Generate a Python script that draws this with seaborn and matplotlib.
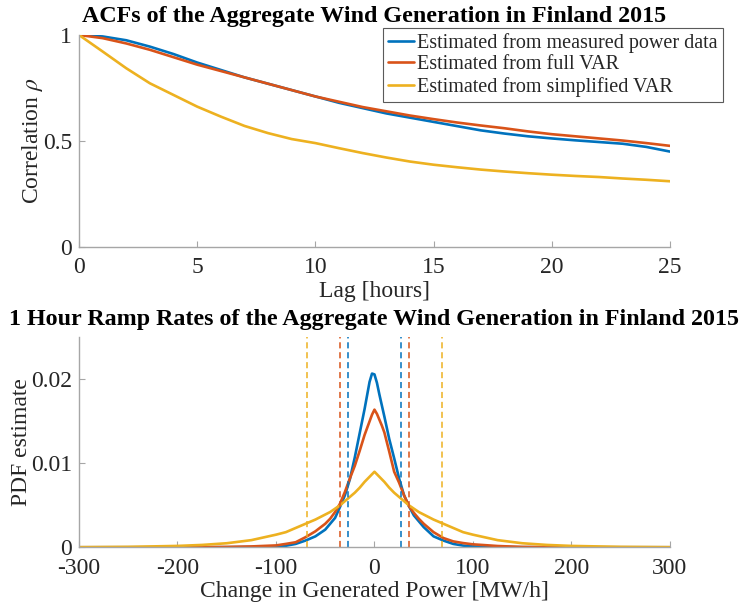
import numpy as np
import pandas as pd
import matplotlib
matplotlib.use("Agg")
import matplotlib.pyplot as plt
import seaborn as sns

# ---------------- data ----------------
series_names = ["Estimated from measured power data",
                "Estimated from full VAR",
                "Estimated from simplified VAR"]
colors = ["#0072BD", "#D95319", "#EDB120"]

lags = list(range(26))
acf_measured = [1.0, 0.993, 0.975, 0.945, 0.91, 0.87, 0.835, 0.80, 0.77, 0.74,
                0.71, 0.68, 0.655, 0.63, 0.61, 0.59, 0.57, 0.55, 0.535, 0.522,
                0.512, 0.503, 0.495, 0.487, 0.472, 0.45]
acf_full_var = [1.0, 0.985, 0.96, 0.93, 0.895, 0.86, 0.83, 0.80, 0.77, 0.74,
                0.71, 0.685, 0.66, 0.64, 0.62, 0.603, 0.587, 0.573, 0.56, 0.545,
                0.532, 0.522, 0.512, 0.502, 0.49, 0.477]
acf_simplified_var = [1.0, 0.922, 0.843, 0.772, 0.717, 0.662, 0.615, 0.571, 0.537, 0.509,
                      0.49, 0.466, 0.443, 0.422, 0.403, 0.388, 0.376, 0.365, 0.356, 0.348,
                      0.341, 0.335, 0.33, 0.323, 0.317, 0.31]

ramp = [-300, -250, -200, -175, -150, -125, -100, -90, -80, -70, -60, -50, -45, -40,
        -35, -30, -25, -20, -15, -10, -7.5, -5, -2.5, 0, 2.5, 5, 7.5, 10, 15, 20, 25,
        30, 35, 40, 45, 50, 60, 70, 80, 90, 100, 125, 150, 175, 200, 250, 300]
pdf_measured = [0, 0, 0, 0, 0.00001, 0.00003, 0.0001, 0.00018, 0.0004, 0.0008, 0.0013,
                0.0021, 0.0028, 0.0035, 0.0048, 0.0062, 0.0081, 0.0107, 0.0136, 0.0165,
                0.0181, 0.0197, 0.0207, 0.0206, 0.0196, 0.0182, 0.0169, 0.0156, 0.0129,
                0.0106, 0.0082, 0.0062, 0.0049, 0.0038, 0.0031, 0.0024, 0.0013, 0.0008,
                0.0004, 0.0002, 0.0001, 0.00003, 0.00001, 0, 0, 0, 0]
pdf_full_var = [0, 0, 0, 0.00002, 0.00004, 0.0001, 0.00022, 0.0004, 0.0006, 0.0012,
                0.0019, 0.0028, 0.0034, 0.0042, 0.0052, 0.0066, 0.0082, 0.0097, 0.0115,
                0.0134, 0.0142, 0.0150, 0.0158, 0.0164, 0.0159, 0.0152, 0.0145, 0.0137,
                0.0114, 0.0090, 0.0077, 0.0062, 0.0049, 0.0041, 0.0034, 0.0028, 0.0018,
                0.0011, 0.0007, 0.0005, 0.00035, 0.00015, 0.00004, 0.00002, 0, 0, 0]
pdf_simplified_var = [0.00001, 0.00005, 0.00016, 0.00028, 0.00048, 0.00085, 0.0015, 0.0018,
                      0.0023, 0.0028, 0.0033, 0.0039, 0.0042, 0.0046, 0.0050, 0.0055, 0.0060,
                      0.0065, 0.0071, 0.0078, 0.0081, 0.0084, 0.0087, 0.0090, 0.0087, 0.0084,
                      0.0081, 0.0078, 0.0071, 0.0065, 0.0060, 0.0055, 0.0050, 0.0046, 0.0042,
                      0.0039, 0.0033, 0.0028, 0.0023, 0.0018, 0.0015, 0.00085, 0.00048,
                      0.00028, 0.00016, 0.00005, 0.00001]

limit_measured = 26.9
limit_full_var = 34.7
limit_simplified_var = 68.6

top_title = "ACFs of the Aggregate Wind Generation in Finland 2015"
bottom_title = "1 Hour Ramp Rates of the Aggregate Wind Generation in Finland 2015"

# ---------------- style ----------------
sns.set_theme(style="white")
plt.rcParams["font.family"] = ["Liberation Serif", "DejaVu Serif"]
plt.rcParams["mathtext.fontset"] = "stix"
spine_col = "#a6a6a6"
text_col = "#262626"
plt.rcParams.update({
    "axes.unicode_minus": False,
    "axes.edgecolor": spine_col,
    "axes.linewidth": 1.0,
    "xtick.direction": "in",
    "ytick.direction": "in",
    "xtick.color": spine_col,
    "ytick.color": spine_col,
    "xtick.labelcolor": text_col,
    "ytick.labelcolor": text_col,
    "xtick.major.size": 4,
    "ytick.major.size": 4,
    "xtick.major.width": 0.8,
    "ytick.major.width": 0.8,
    "xtick.major.pad": 7.5,
    "ytick.major.pad": 5,
    "xtick.bottom": True,
    "ytick.left": True,
})

fig = plt.figure(figsize=(7.43, 6.07), dpi=100)
ax1 = fig.add_axes([0.1063, 0.5931, 0.7954, 0.3493])
ax2 = fig.add_axes([0.1063, 0.0984, 0.7954, 0.3456])

FS = 17

# ---------------- top: ACF ----------------
acf_df = pd.DataFrame({
    "lag": lags * 3,
    "rho": acf_measured + acf_full_var + acf_simplified_var,
    "series": [series_names[0]] * 26 + [series_names[1]] * 26 + [series_names[2]] * 26,
})
sns.lineplot(data=acf_df, x="lag", y="rho", hue="series", hue_order=series_names,
             palette=colors, estimator=None, errorbar=None, linewidth=1.9, ax=ax1)
ax1.set_xlim(0, 25)
ax1.set_ylim(0, 1)
ax1.set_xticks([0, 5, 10, 15, 20, 25])
ax1.set_yticks([0, 0.5, 1])
ax1.set_yticklabels(["0", "0.5", "1"])
ax1.set_xlabel("Lag [hours]", fontsize=FS, color=text_col, labelpad=2)
ax1.set_ylabel(r"Correlation $\rho$", fontsize=FS, color=text_col, labelpad=-1.5)
ax1.set_title(top_title, fontsize=17.3, fontweight="bold", color="black", pad=9)
ax1.tick_params(labelsize=FS)
handles, labels = ax1.get_legend_handles_labels()
ax1.legend(handles, labels, loc="upper left", bbox_to_anchor=(0.5155, 0.954),
           bbox_transform=fig.transFigure, borderaxespad=0, fontsize=14.5,
           frameon=True, fancybox=False, edgecolor="#5a5a5a", framealpha=1,
           handlelength=1.3, handletextpad=0.15, borderpad=0.25, labelspacing=0.12)
ax1.get_legend().get_frame().set_linewidth(0.8)

# ---------------- bottom: PDFs ----------------
n = len(ramp)
pdf_df = pd.DataFrame({
    "change": ramp * 3,
    "pdf": pdf_measured + pdf_full_var + pdf_simplified_var,
    "series": [series_names[0]] * n + [series_names[1]] * n + [series_names[2]] * n,
})
sns.lineplot(data=pdf_df, x="change", y="pdf", hue="series", hue_order=series_names,
             palette=colors, estimator=None, errorbar=None, linewidth=1.9, ax=ax2,
             legend=False)
for lim, c in zip([limit_measured, limit_full_var, limit_simplified_var], colors):
    for s in (-1, 1):
        ax2.axvline(s * lim, color=c, lw=1.1, linestyle=(0, (4, 2.5)))
ax2.set_xlim(-300, 300)
ax2.set_ylim(0, 0.025)
ax2.set_xticks([-300, -200, -100, 0, 100, 200, 300])
ax2.set_yticks([0, 0.01, 0.02])
ax2.set_yticklabels(["0", "0.01", "0.02"])
ax2.set_xlabel("Change in Generated Power [MW/h]", fontsize=FS, color=text_col, labelpad=2)
ax2.set_ylabel("PDF estimate", fontsize=FS, color=text_col, labelpad=-1)
ax2.set_title(bottom_title, fontsize=17.3, fontweight="bold", color="black", pad=9)
ax2.tick_params(labelsize=FS)

for ax in (ax1, ax2):
    ax.spines["top"].set_visible(False)
    ax.spines["right"].set_visible(False)

fig.savefig("out.png", dpi=100)
